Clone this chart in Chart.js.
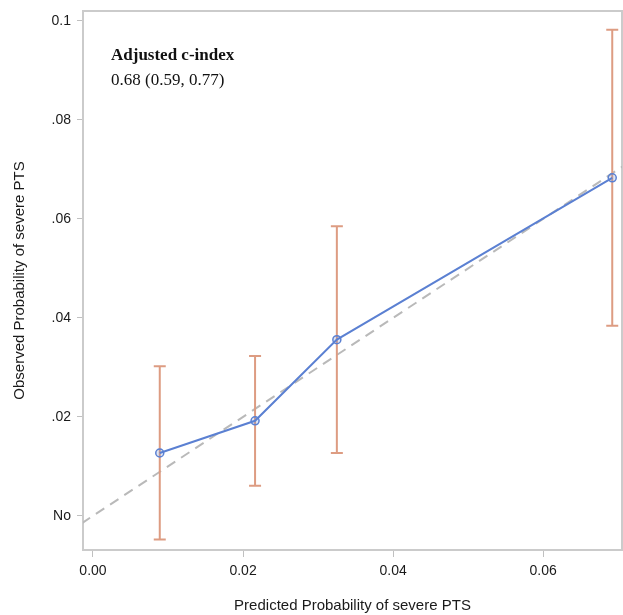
<!DOCTYPE html>
<html>
<head>
<meta charset="utf-8">
<script src="https://cdn.jsdelivr.net/npm/chart.js@4"></script>
<style>
  body { margin: 0; background: #fff; }
  #wrap { width: 623px; height: 615px; }
</style>
</head>
<body>
<div id="wrap"><canvas id="calib" width="623" height="615"></canvas></div>
<script>
// calibration points (predicted vs observed) with 95% CI
const predicted = [0.0089, 0.0216, 0.0325, 0.0692];
const observed = [0.0127, 0.0192, 0.0356, 0.0683];
const lower = [-0.0048, 0.0061, 0.0127, 0.0384];
const upper = [0.0302, 0.0323, 0.0585, 0.0982];
const refLine = [-0.0015, 0.0715];

const xTicks = [0, 0.02, 0.04, 0.06];
const xTickLabels = ['0.00', '0.02', '0.04', '0.06'];
const yTicks = [0, 0.02, 0.04, 0.06, 0.08, 0.1];
const yTickLabels = ['No', '.02', '.04', '.06', '.08', '0.1'];

const blue = '#5b80d2';
const orange = '#dd9c82';

const errorBars = {
    id: 'errorBars',
    afterDatasetDraw(chart, args) {
        if (args.index !== 1) return;
        const { ctx, scales: { x, y } } = chart;
        ctx.save();
        ctx.strokeStyle = orange;
        ctx.lineWidth = 2;
        predicted.forEach((p, i) => {
            const px = x.getPixelForValue(p);
            const lo = y.getPixelForValue(lower[i]);
            const hi = y.getPixelForValue(upper[i]);
            ctx.beginPath();
            ctx.moveTo(px, lo); ctx.lineTo(px, hi);
            ctx.moveTo(px - 6, lo); ctx.lineTo(px + 6, lo);
            ctx.moveTo(px - 6, hi); ctx.lineTo(px + 6, hi);
            ctx.stroke();
        });
        ctx.restore();
    }
};

const frame = {
    id: 'frame',
    beforeDatasetsDraw(chart) {
        const { ctx, chartArea: a } = chart;
        ctx.save();
        ctx.strokeStyle = '#cbcbcb';
        ctx.lineWidth = 2;
        ctx.strokeRect(a.left, a.top, a.right - a.left, a.bottom - a.top);
        ctx.restore();
    }
};

const note = {
    id: 'note',
    afterDraw(chart) {
        const { ctx, chartArea: a } = chart;
        ctx.save();
        ctx.fillStyle = '#111';
        ctx.textBaseline = 'alphabetic';
        ctx.font = 'bold 17px "Liberation Serif", "Times New Roman", serif';
        ctx.fillText('Adjusted c-index', a.left + 28, a.top + 49);
        ctx.font = '17px "Liberation Serif", "Times New Roman", serif';
        ctx.fillText('0.68 (0.59, 0.77)', a.left + 28, a.top + 74);
        ctx.restore();
    }
};

new Chart(document.getElementById('calib'), {
    type: 'scatter',
    data: {
        datasets: [{
            label: 'Observed',
            data: predicted.map((p, i) => ({ x: p, y: observed[i] })),
            showLine: true,
            borderColor: blue,
            borderWidth: 2,
            pointRadius: 4,
            pointBorderWidth: 1.5,
            pointBorderColor: blue,
            pointBackgroundColor: 'rgba(91,128,210,0.2)'
        }, {
            label: 'Reference',
            data: refLine.map(v => ({ x: v, y: v })),
            showLine: true,
            borderColor: '#b9b9b9',
            borderWidth: 2,
            borderDash: [10, 7],
            pointRadius: 0
        }]
    },
    options: {
        responsive: false,
        animation: false,
        layout: { autoPadding: false, padding: { top: 11, right: 1, left: 0, bottom: 0 } },
        plugins: { legend: { display: false }, tooltip: { enabled: false } },
        scales: {
            x: {
                type: 'linear',
                min: -0.00133,
                max: 0.0705,
                afterBuildTicks: axis => { axis.ticks = xTicks.map(v => ({ value: v })); },
                afterFit: s => { s.height = 65; s.paddingLeft = 0; s.paddingRight = 0; },
                ticks: {
                    callback: (v, i) => xTickLabels[i],
                    color: '#1a1a1a',
                    font: { family: 'Liberation Sans, Arial, sans-serif', size: 14 },
                    padding: 6,
                    maxRotation: 0
                },
                grid: { drawOnChartArea: false, tickLength: 7, color: '#c0c0c0' },
                border: { display: false },
                title: {
                    display: true,
                    text: 'Predicted Probability of severe PTS',
                    color: '#1a1a1a',
                    font: { family: 'Liberation Sans, Arial, sans-serif', size: 15 },
                    padding: { top: 4, bottom: 0 }
                }
            },
            y: {
                type: 'linear',
                min: -0.0069,
                max: 0.102,
                afterBuildTicks: axis => { axis.ticks = yTicks.map(v => ({ value: v })); },
                afterFit: s => { s.width = 83; s.paddingTop = 0; s.paddingBottom = 0; },
                ticks: {
                    callback: (v, i) => yTickLabels[i],
                    color: '#1a1a1a',
                    font: { family: 'Liberation Sans, Arial, sans-serif', size: 14 },
                    padding: 6
                },
                grid: { drawOnChartArea: false, tickLength: 6, color: '#c0c0c0' },
                border: { display: false },
                title: {
                    display: true,
                    text: 'Observed Probability of severe PTS',
                    color: '#1a1a1a',
                    font: { family: 'Liberation Sans, Arial, sans-serif', size: 15 },
                    padding: { top: 11, bottom: 0 }
                }
            }
        }
    },
    plugins: [frame, errorBars, note]
});
</script>
</body>
</html>
